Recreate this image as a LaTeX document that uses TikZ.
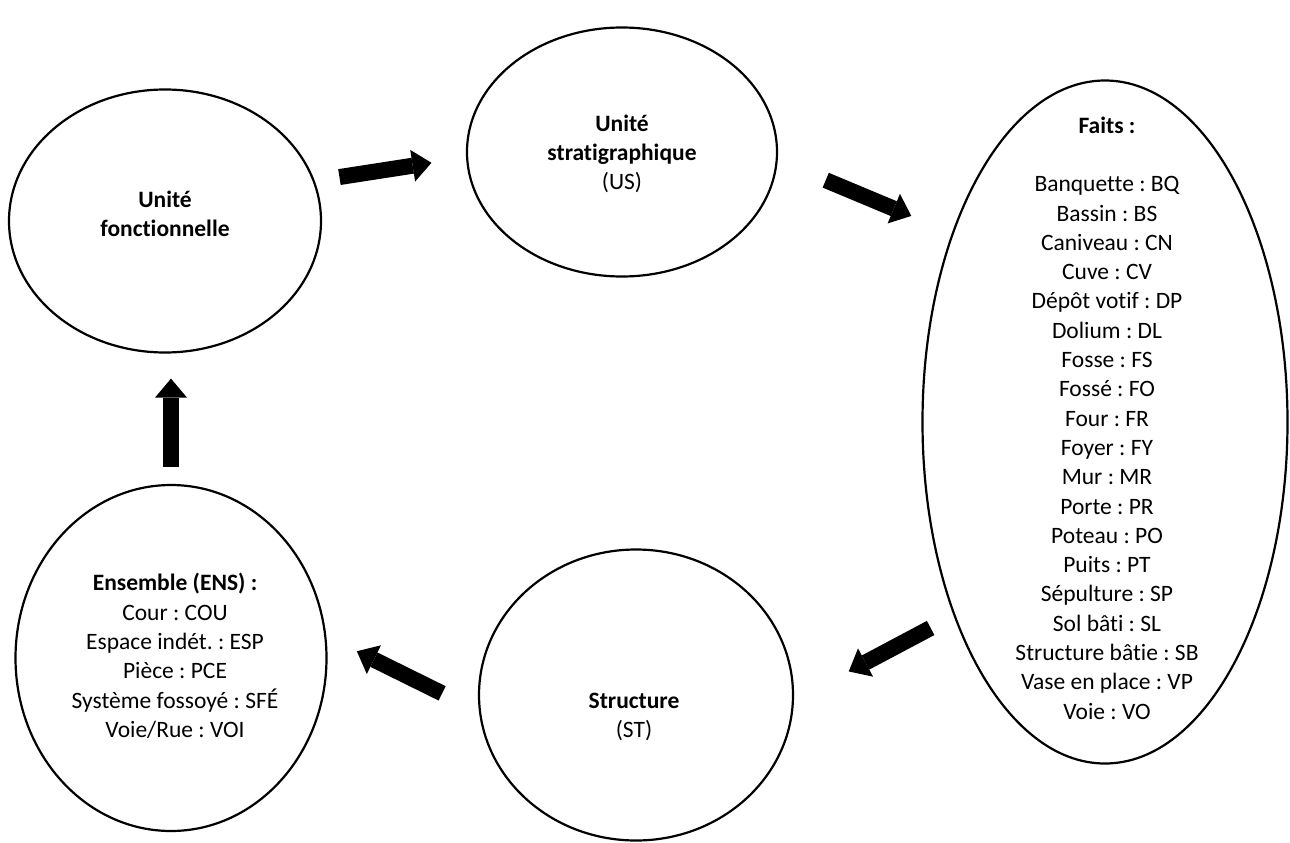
\documentclass[tikz,border=0pt]{standalone}
\usepackage{fontspec}
\setmainfont[Ligatures=NoCommon]{Carlito}
\frenchspacing
\usetikzlibrary{shapes.geometric,arrows.meta}
\tikzset{ring/.style 2 args={
        draw=black,
        line width=2.2pt,
        ellipse,
        inner sep=0pt,
        minimum width=#1,
        minimum height=#2},
        %
        txt/.style={
            align=center,
            font=\fontsize{23.5pt}{29.3pt}\selectfont},
        %
        blockarrow/.style={
            draw=black,
            line width=16pt,
            -{Triangle[width=32pt,length=19pt,line width=0pt]}}
        }

\begin{document}
\begin{tikzpicture}[x=1pt,y=-1pt]
\useasboundingbox (0,0) rectangle (1290,843);

% the five units
\node[ring={312pt}{263pt}] (UF) at (165,221) {};
\node[ring={310pt}{249pt}] (US) at (622,152) {};
\node[ring={365pt}{683pt}] (FT) at (1105,422) {};
\node[ring={314pt}{291pt}] (ST) at (636,695) {};
\node[ring={311pt}{346pt}] (ENS) at (171,658) {};

\node[txt] (UF-t) at (165,214) {\textbf{Unité}\\\textbf{fonctionnelle}};
\node[txt] (US-t) at (622,154) {\textbf{Unité}\\\textbf{stratigraphique}\\(US)};
\node[txt] (FT-t) at (1107,418) {\textbf{Faits :}\\[29.3pt]Banquette : BQ\\Bassin : BS\\Caniveau : CN\\Cuve : CV\\Dépôt votif : DP\\Dolium : DL\\Fosse : FS\\Fossé : FO\\Four : FR\\Foyer : FY\\Mur : MR\\Porte : PR\\Poteau : PO\\Puits : PT\\Sépulture : SP\\Sol bâti : SL\\Structure bâtie : SB\\Vase en place : VP\\Voie : VO};
\node[txt] (ST-t) at (634,717) {\textbf{Structure}\\(ST)};
\node[txt] (ENS-t) at (175,656) {\textbf{Ensemble (ENS) :}\\Cour : COU\\Espace indét. : ESP\\Pièce : PCE\\Système fossoyé : SFÉ\\Voie/Rue : VOI};

% cycle
\draw[blockarrow, shorten <=25pt, shorten >=35pt] (UF.15) -- (US.182);
\draw[blockarrow, shorten <=52pt, shorten >=44pt] (US.-3) -- (FT.129);
\draw[blockarrow, shorten <=26pt, shorten >=62pt] (FT.232) -- (ST.-2);
\draw[blockarrow, shorten <=41pt, shorten >=34pt] (ST.186) -- (ENS.8);
\draw[blockarrow, shorten <=17pt, shorten >=25pt] (ENS.north) -- (ENS.north |- UF.south);
\end{tikzpicture}
\end{document}
